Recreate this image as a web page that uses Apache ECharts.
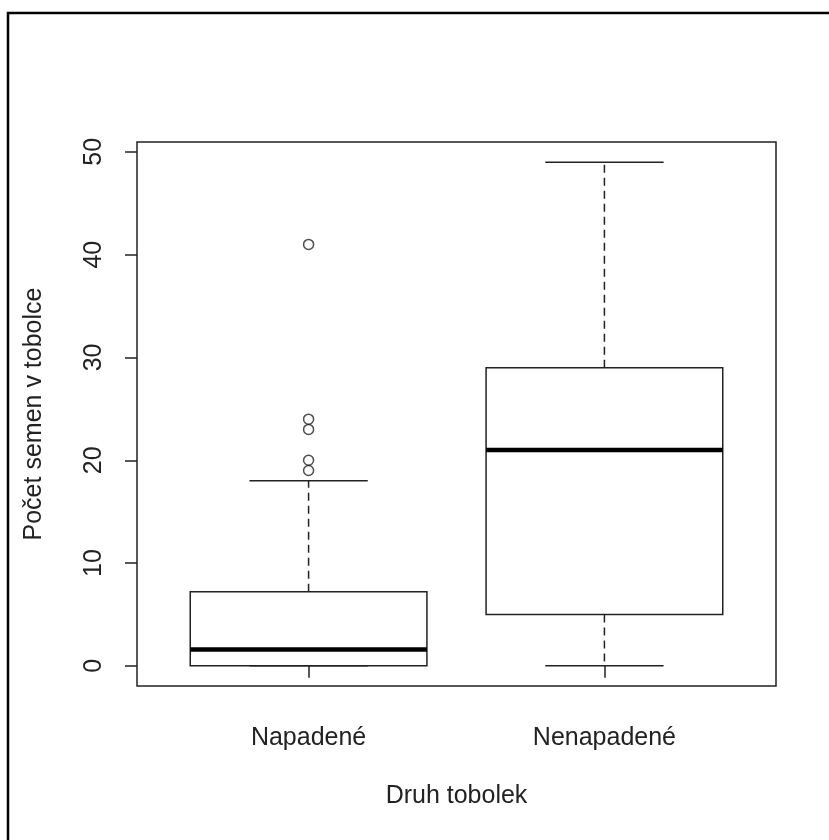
<!DOCTYPE html>
<html>
<head>
<meta charset="utf-8">
<title>Počet semen v tobolce</title>
<script src="https://cdn.jsdelivr.net/npm/echarts@6/dist/echarts.min.js"></script>
<style>
  html, body { margin: 0; padding: 0; background: #fff; }
  #chart { width: 829px; height: 840px; }
</style>
</head>
<body>
<div id="chart"></div>
<script>
// groups on the x axis (positions 1 and 2)
var groups = ['Napadené', 'Nenapadené'];
var groupPos = [1, 2];

// box statistics per group: lower whisker, Q1, median, Q3, upper whisker
var whiskerLow = [0, 0];
var quart1 = [0, 5];
var medians = [1.6, 21];
var quart3 = [7.2, 29];
var whiskerHigh = [18, 49];

// outliers, [group position, value]
var outliers = [[1, 41], [1, 24], [1, 23], [1, 20], [1, 19]];

var yTicks = [0, 10, 20, 30, 40, 50];

var font = "'Liberation Sans', Arial, sans-serif";
var ink = '#222';
var boxWidth = 0.8;

var boxData = groups.map(function (g, i) {
  return [groupPos[i], whiskerLow[i], quart1[i], medians[i], quart3[i], whiskerHigh[i]];
});

function renderBox(params, api) {
  var x = api.value(0);
  var lo = api.coord([x, api.value(1)]);
  var q1 = api.coord([x, api.value(2)]);
  var med = api.coord([x, api.value(3)]);
  var q3 = api.coord([x, api.value(4)]);
  var hi = api.coord([x, api.value(5)]);
  var half = api.size([boxWidth, 0])[0] / 2;
  var cap = half / 2;
  var cx = q1[0];
  var solid = { stroke: ink, lineWidth: 1.5 };
  var dashed = { stroke: ink, lineWidth: 1.5, lineDash: [8, 5] };
  var kids = [];
  if (q1[1] - lo[1] < -0.5) {
    kids.push({ type: 'line', shape: { x1: cx, y1: q1[1], x2: cx, y2: lo[1] }, style: dashed });
  }
  kids.push({ type: 'line', shape: { x1: cx, y1: q3[1], x2: cx, y2: hi[1] }, style: dashed });
  kids.push({ type: 'line', shape: { x1: cx - cap, y1: lo[1], x2: cx + cap, y2: lo[1] }, style: solid });
  kids.push({ type: 'line', shape: { x1: cx - cap, y1: hi[1], x2: cx + cap, y2: hi[1] }, style: solid });
  kids.push({
    type: 'rect',
    shape: { x: cx - half, y: q3[1], width: half * 2, height: q1[1] - q3[1] },
    style: { fill: '#fff', stroke: ink, lineWidth: 1.5 }
  });
  kids.push({ type: 'line', shape: { x1: cx - half, y1: med[1], x2: cx + half, y2: med[1] },
    style: { stroke: '#000', lineWidth: 4.5 } });
  return { type: 'group', children: kids };
}

var chart = echarts.init(document.getElementById('chart'));
chart.setOption({
  animation: false,
  backgroundColor: '#fff',
  graphic: [{
    type: 'rect',
    shape: { x: 8, y: 13, width: 900, height: 900 },
    style: { fill: 'none', stroke: '#000', lineWidth: 2.5 },
    silent: true
  }],
  grid: {
    left: 137, top: 142, width: 639, height: 544,
    show: true, borderColor: ink, borderWidth: 1.5, backgroundColor: 'transparent'
  },
  xAxis: {
    type: 'value',
    min: 0.42,
    max: 2.58,
    name: 'Druh tobolek',
    nameLocation: 'middle',
    nameGap: 98,
    nameTextStyle: { fontFamily: font, fontSize: 25, color: ink },
    axisLine: { show: false },
    splitLine: { show: false },
    axisTick: { show: true, length: 12, customValues: groupPos, lineStyle: { color: ink, width: 1.5 } },
    axisLabel: {
      customValues: groupPos,
      margin: 40,
      fontFamily: font, fontSize: 25, color: ink,
      formatter: function (v) { return groups[groupPos.indexOf(v)]; }
    }
  },
  yAxis: {
    type: 'value',
    min: -1.96,
    max: 50.96,
    name: 'Počet semen v tobolce',
    nameLocation: 'middle',
    nameGap: 90,
    nameTextStyle: { fontFamily: font, fontSize: 25, color: ink },
    axisLine: { show: false },
    splitLine: { show: false },
    axisTick: { show: true, length: 12, customValues: yTicks, lineStyle: { color: ink, width: 1.5 } },
    axisLabel: {
      customValues: yTicks,
      rotate: 90,
      margin: 30,
      fontFamily: font, fontSize: 25, color: ink
    }
  },
  series: [{
    type: 'custom',
    renderItem: renderBox,
    encode: { x: 0, y: [1, 2, 3, 4, 5] },
    data: boxData,
    z: 2
  }, {
    type: 'scatter',
    data: outliers,
    symbol: 'circle',
    symbolSize: 10,
    itemStyle: { color: 'transparent', borderColor: ink, borderWidth: 1.5 },
    z: 3
  }]
});
</script>
</body>
</html>
